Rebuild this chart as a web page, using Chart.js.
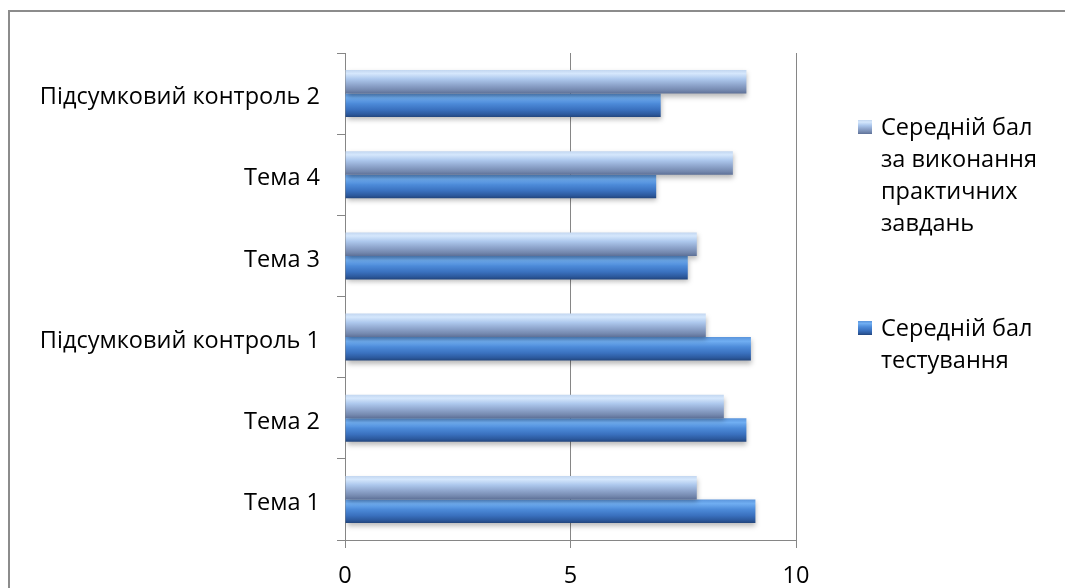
<!DOCTYPE html>
<html>
<head>
<meta charset="utf-8">
<script src="https://cdn.jsdelivr.net/npm/chart.js@4.4.1/dist/chart.umd.min.js"></script>
<style>
  html, body { margin: 0; padding: 0; background: #fff; }
  #wrap { width: 1065px; height: 588px; }
</style>
</head>
<body>
<div id="wrap"><canvas id="c" width="1065" height="588"></canvas></div>
<script>
// Categories listed bottom-to-top (the y axis is reversed)
const categories = ['Тема 1', 'Тема 2', 'Підсумковий контроль 1', 'Тема 3', 'Тема 4', 'Підсумковий контроль 2'];
const practiceScores = [7.8, 8.4, 8.0, 7.8, 8.6, 8.9];
const testScores = [9.1, 8.9, 9.0, 7.6, 6.9, 7.0];
const practiceLabel = ['Середній бал', 'за виконання', 'практичних', 'завдань'];
const testLabel = ['Середній бал', 'тестування'];
const xTickValues = [0, 5, 10];

const FONT_FAMILY = '"Open Sans", "Noto Sans", sans-serif';
const FONT_SIZE = 23.5;
const AXIS_GREY = '#868686';

// Vertical gradient stops giving each bar its rounded, glossy look
const practiceStops = [[0, '#c2d6f0'], [0.15, '#d5e7fc'], [0.38, '#adc8ed'], [0.62, '#90a7ce'], [0.86, '#7488ae'], [1, '#5d7097']];
const testStops = [[0, '#5b95dc'], [0.18, '#70aef2'], [0.42, '#4d8bd9'], [0.68, '#3a71bf'], [0.88, '#2c599d'], [1, '#22457c']];

function makeGradient(ctx, top, bottom, stops) {
  const g = ctx.createLinearGradient(0, top, 0, bottom);
  stops.forEach(([p, c]) => g.addColorStop(p, c));
  return g;
}

// Frame around the whole chart
const framePlugin = {
  id: 'frame',
  beforeDraw(chart) {
    const ctx = chart.ctx;
    ctx.save();
    ctx.fillStyle = '#fff';
    ctx.fillRect(0, 0, chart.width, chart.height);
    ctx.strokeStyle = '#8c8c8c';
    ctx.lineWidth = 2;
    ctx.strokeRect(9, 11, chart.width + 20, chart.height + 20);
    ctx.restore();
  }
};

// Per-bar gradients and a soft drop shadow
const barStylePlugin = {
  id: 'barStyle',
  beforeDatasetsDraw(chart) {
    const ctx = chart.ctx;
    chart.data.datasets.forEach((ds, i) => {
      const meta = chart.getDatasetMeta(i);
      meta.data.forEach(el => {
        const top = el.y - el.height / 2;
        const bottom = el.y + el.height / 2;
        el.options.backgroundColor = makeGradient(ctx, top, bottom, ds.gradientStops);
      });
    });
    ctx.save();
    ctx.shadowColor = 'rgba(0,0,0,0.28)';
    ctx.shadowBlur = 5;
    ctx.shadowOffsetX = 1;
    ctx.shadowOffsetY = 3;
  },
  afterDatasetsDraw(chart) {
    chart.ctx.restore();
  }
};

// Legend on the right with wrapped multi-line entries
const sideLegendPlugin = {
  id: 'sideLegend',
  afterDraw(chart) {
    const ctx = chart.ctx;
    const entries = [
      { lines: practiceLabel, top: 128, stops: practiceStops },
      { lines: testLabel, top: 329, stops: testStops }
    ];
    const lineH = 32;
    ctx.save();
    ctx.font = FONT_SIZE + 'px ' + FONT_FAMILY;
    ctx.textBaseline = 'middle';
    ctx.textAlign = 'left';
    entries.forEach(e => {
      const sq = 14;
      const sx = 858, sy = e.top - 1 - sq / 2;
      ctx.fillStyle = makeGradient(ctx, sy, sy + sq, e.stops);
      ctx.fillRect(sx, sy, sq, sq);
      ctx.fillStyle = '#000';
      e.lines.forEach((t, k) => ctx.fillText(t, 881, e.top + k * lineH));
    });
    ctx.restore();
  }
};

const tickFont = { family: FONT_FAMILY, size: FONT_SIZE };

new Chart(document.getElementById('c'), {
  type: 'bar',
  data: {
    labels: categories,
    datasets: [
      {
        label: practiceLabel.join(' '),
        data: practiceScores,
        gradientStops: practiceStops,
        backgroundColor: () => '#9fb6dc',
        borderWidth: 0,
        categoryPercentage: 0.58,
        barPercentage: 1.0
      },
      {
        label: testLabel.join(' '),
        data: testScores,
        gradientStops: testStops,
        backgroundColor: () => '#3f7cc9',
        borderWidth: 0,
        categoryPercentage: 0.58,
        barPercentage: 1.0
      }
    ]
  },
  options: {
    indexAxis: 'y',
    responsive: false,
    animation: false,
    events: [],
    layout: { padding: { top: 53, right: 269, left: 0, bottom: 0 } },
    plugins: {
      legend: { display: false },
      tooltip: { enabled: false }
    },
    scales: {
      x: {
        min: 0,
        max: 10,
        afterBuildTicks: s => { s.ticks = xTickValues.map(v => ({ value: v })); },
        ticks: { color: '#000', font: tickFont, padding: 14 },
        grid: { color: AXIS_GREY, lineWidth: 1, tickLength: 8 },
        border: { color: AXIS_GREY, width: 1 },
        afterFit: s => { s.height = 48; }
      },
      y: {
        type: 'category',
        reverse: true,
        offset: true,
        ticks: { color: '#000', font: tickFont, padding: 17, labelOffset: 4 },
        grid: { offset: true, drawOnChartArea: false, color: AXIS_GREY, tickLength: 8 },
        border: { color: AXIS_GREY, width: 1 },
        afterFit: s => { s.width = 345; }
      }
    }
  },
  plugins: [framePlugin, barStylePlugin, sideLegendPlugin]
});
</script>
</body>
</html>
